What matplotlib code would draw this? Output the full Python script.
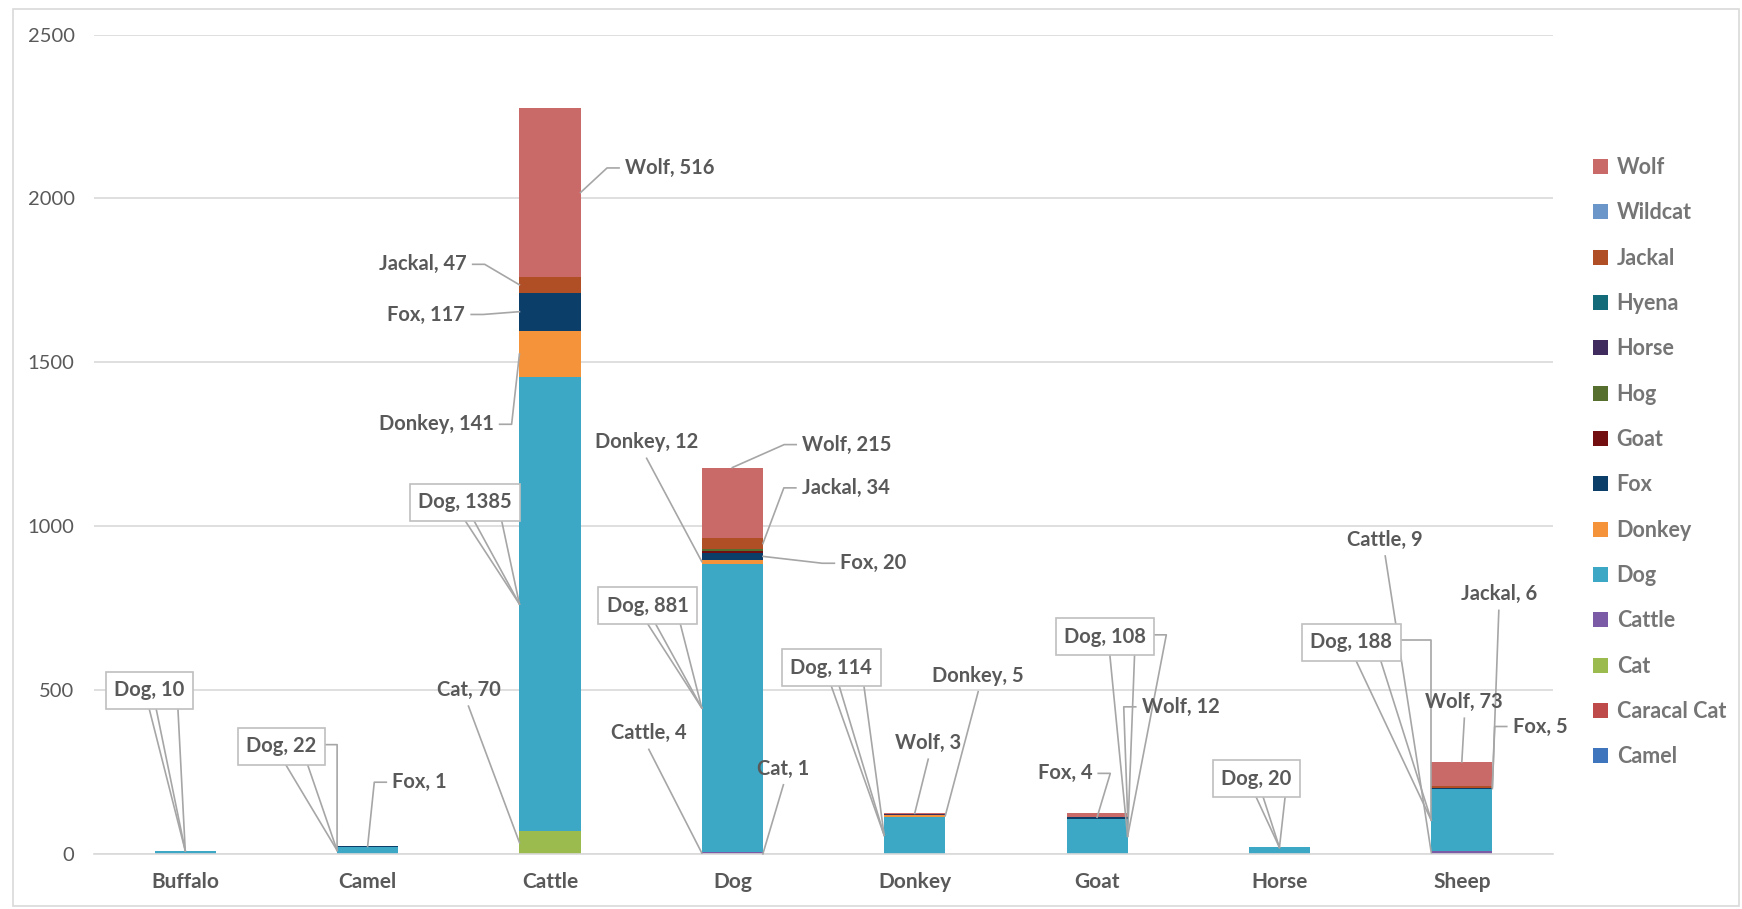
import matplotlib
matplotlib.use('Agg')
import matplotlib.pyplot as plt
import matplotlib.patches as mpatches
import numpy as np

plt.rcParams['font.family'] = ['Lato', 'DejaVu Sans']

categories = ['Buffalo', 'Camel', 'Cattle', 'Dog', 'Donkey', 'Goat', 'Horse', 'Sheep']

# series in stacking order (bottom -> top)
series_names = ['Camel', 'Caracal Cat', 'Cat', 'Cattle', 'Dog', 'Donkey', 'Fox',
                'Goat', 'Hog', 'Horse', 'Hyena', 'Jackal', 'Wildcat', 'Wolf']
camel = [0, 0, 0, 0, 0, 0, 0, 0]
caracal_cat = [0, 0, 0, 0, 0, 0, 0, 0]
cat = [0, 0, 70, 1, 0, 0, 0, 0]
cattle = [0, 0, 0, 4, 0, 0, 0, 9]
dog = [10, 22, 1385, 881, 114, 108, 20, 188]
donkey = [0, 0, 141, 12, 5, 0, 0, 0]
fox = [0, 1, 117, 20, 0, 4, 0, 5]
goat = [0, 0, 0, 6, 0, 0, 0, 0]
hog = [0, 0, 0, 6, 0, 0, 0, 0]
horse = [0, 0, 0, 0, 2, 0, 0, 0]
hyena = [0, 0, 0, 0, 0, 0, 0, 0]
jackal = [0, 0, 47, 34, 0, 0, 0, 6]
wildcat = [0, 0, 0, 0, 0, 0, 0, 0]
wolf = [0, 0, 516, 215, 3, 12, 0, 73]
series_values = [camel, caracal_cat, cat, cattle, dog, donkey, fox,
                 goat, hog, horse, hyena, jackal, wildcat, wolf]

colors = {'Camel': '#3E75BC', 'Caracal Cat': '#BF4A4A', 'Cat': '#9BBB4F',
          'Cattle': '#7B5AA6', 'Dog': '#3CA8C5', 'Donkey': '#F5933A',
          'Fox': '#0C3E6A', 'Goat': '#720E10', 'Hog': '#566E2E',
          'Horse': '#3F2B5E', 'Hyena': '#136A78', 'Jackal': '#B04E25',
          'Wildcat': '#6A96C9', 'Wolf': '#C96A68'}

# data labels: (series, category, label x, label y, leader style, target side)
labels = [
    ('Dog', 'Buffalo', -0.198, 500, 'box', 'top'),
    ('Dog', 'Camel', 0.528, 328, 'boxe', 'left'),
    ('Fox', 'Camel', 1.285, 219, 'L', 'top'),
    ('Wolf', 'Cattle', 2.657, 2093, 'L', 'right'),
    ('Jackal', 'Cattle', 1.303, 1799, 'R', 'left'),
    ('Fox', 'Cattle', 1.322, 1646, 'R', 'left'),
    ('Donkey', 'Cattle', 1.376, 1311, 'R', 'left'),
    ('Dog', 'Cattle', 1.535, 1073, 'box', 'left'),
    ('Cat', 'Cattle', 1.553, 500, 'B', 'left'),
    ('Wolf', 'Dog', 3.628, 1249, 'L', 'top'),
    ('Jackal', 'Dog', 3.622, 1117, 'L', 'right'),
    ('Fox', 'Dog', 3.774, 887, 'L', 'right'),
    ('Donkey', 'Dog', 2.530, 1256, 'B', 'left'),
    ('Dog', 'Dog', 2.536, 758, 'box', 'left'),
    ('Cattle', 'Dog', 2.542, 368, 'B', 'left'),
    ('Cat', 'Dog', 3.280, 260, 'B', 'right'),
    ('Dog', 'Donkey', 3.543, 568, 'box', 'left'),
    ('Wolf', 'Donkey', 4.074, 338, 'B', 'top'),
    ('Donkey', 'Donkey', 4.348, 544, 'B', 'right'),
    ('Dog', 'Goat', 5.043, 663, 'boxe', 'right'),
    ('Wolf', 'Goat', 5.458, 449, 'L', 'right'),
    ('Fox', 'Goat', 4.824, 246, 'R', 'top'),
    ('Dog', 'Horse', 5.873, 229, 'box', 'top'),
    ('Cattle', 'Sheep', 6.580, 958, 'B', 'left'),
    ('Dog', 'Sheep', 6.393, 646, 'boxe', 'left'),
    ('Wolf', 'Sheep', 7.014, 463, 'B', 'top'),
    ('Jackal', 'Sheep', 7.203, 792, 'B', 'right'),
    ('Fox', 'Sheep', 7.429, 389, 'L', 'right'),
]

grey = '#595959'
lead = '#A6A6A6'

fig = plt.figure(figsize=(17.42, 9.09), dpi=100)
ax = fig.add_axes([0.054, 0.0605, 0.8375, 0.9015])

x = np.arange(len(categories))
width = 0.335
bottom = np.zeros(len(categories))
bottoms = {}
bars = []
for name, vals in zip(series_names, series_values):
    vals = np.array(vals, dtype=float)
    bottoms[name] = bottom.copy()
    b = ax.bar(x, vals, width, bottom=bottom, color=colors[name], label=name, zorder=2)
    bars.append(b)
    bottom = bottom + vals

ax.set_xlim(-0.5, 7.5)
ax.set_ylim(0, 2500)
ax.set_yticks([0, 500, 1000, 1500, 2000, 2500])
ax.grid(axis='y', color='#D9D9D9', lw=1.2, zorder=0)
ax.set_axisbelow(True)
for s in ['top', 'right', 'left']:
    ax.spines[s].set_visible(False)
ax.spines['bottom'].set_color('#D9D9D9')
ax.spines['bottom'].set_linewidth(1.2)
ax.tick_params(length=0)
ax.tick_params(axis='y', labelsize=14.5, labelcolor=grey, pad=14)
ax.set_xticks(x)
ax.set_xticklabels(categories, fontsize=15, fontweight='bold', color=grey)
ax.tick_params(axis='x', pad=13)

# legend (reverse order, top entry = Wolf)
handles = bars[::-1]
leg = fig.legend(handles, series_names[::-1], loc='upper left',
                 bbox_to_anchor=(1593 / 1742, 1 - 157 / 909), frameon=False,
                 fontsize=15.5, labelspacing=1.13, handlelength=0.7, handleheight=0.7,
                 handletextpad=0.4, borderpad=0, borderaxespad=0)
for t in leg.get_texts():
    t.set_color('#757575')
    t.set_fontweight('bold')

# data label texts
texts = []
for ser, cat_name, lx, ly, style, side in labels:
    ci = categories.index(cat_name)
    si = series_names.index(ser)
    val = series_values[si][ci]
    kw = dict(ha='center', va='center', fontsize=14.5, fontweight='bold', color=grey, zorder=5)
    if style.startswith('box'):
        kw['bbox'] = dict(boxstyle='square,pad=0.42', fc='white', ec='#BFBFBF', lw=1.2)
    t = ax.text(lx, ly, f'{ser}, {val}', **kw)
    texts.append(t)

fig.canvas.draw()
renderer = fig.canvas.get_renderer()
inv = ax.transData.inverted()

for t, (ser, cat_name, lx, ly, style, side) in zip(texts, labels):
    ci = categories.index(cat_name)
    si = series_names.index(ser)
    val = series_values[si][ci]
    b0 = bottoms[ser][ci]
    if side == 'top':
        tx, ty = ci, b0 + val
    elif side == 'left':
        tx, ty = ci - width / 2, b0 + val / 2
    else:
        tx, ty = ci + width / 2, b0 + val / 2
    tpx, tpy = ax.transData.transform((tx, ty))
    if style.startswith('box'):
        bb = t.get_bbox_patch().get_window_extent(renderer)
    else:
        bb = t.get_window_extent(renderer)
    paths = []
    if style == 'box':
        for f in [0.5, 0.58, 0.83]:
            paths.append([(bb.x0 + f * bb.width, bb.y0), (tpx, tpy)])
    elif style == 'boxe':
        for f in [0.55, 0.8]:
            paths.append([(bb.x0 + f * bb.width, bb.y0), (tpx, tpy)])
        ey = bb.y0 + 0.55 * bb.height
        ex = max(bb.x1 + 12, tpx)
        paths.append([(bb.x1, ey), (ex, ey), (tpx, tpy)])
    elif style == 'L':
        my = (bb.y0 + bb.y1) / 2
        paths.append([(bb.x0 - 6, my), (bb.x0 - 18, my), (tpx, tpy)])
    elif style == 'R':
        my = (bb.y0 + bb.y1) / 2
        paths.append([(bb.x1 + 6, my), (bb.x1 + 18, my), (tpx, tpy)])
    else:
        cx = (bb.x0 + bb.x1) / 2
        paths.append([(cx, bb.y0 - 6), (tpx, tpy)])
    for p in paths:
        d = inv.transform(np.array(p))
        ax.plot(d[:, 0], d[:, 1], color=lead, lw=1.2, zorder=4, clip_on=False)

# outer chart border
fig.patches.append(mpatches.Rectangle((13 / 1742, 3 / 909), 1726 / 1742, 897 / 909,
                                      transform=fig.transFigure, fill=False,
                                      ec='#D9D9D9', lw=1.2))

fig.savefig('out.png', dpi=100)
